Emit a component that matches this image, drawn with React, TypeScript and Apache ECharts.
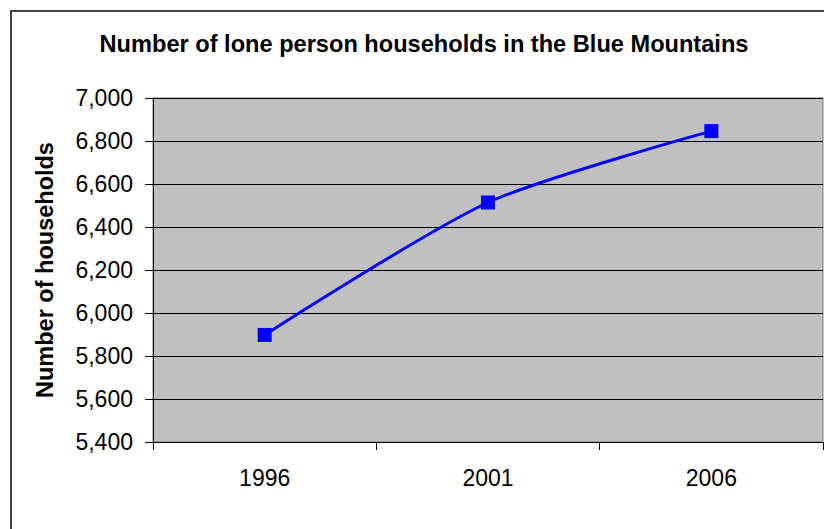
import React, { useEffect, useRef } from "react";
import * as echarts from "echarts";

const categories = ["1996", "2001", "2006"];
const households = [5898, 6514, 6846];
const yTicks = { min: 5400, max: 7000, interval: 200 };
const titleText = "Number of lone person households in the Blue Mountains";
const yAxisTitle = "Number of households";

export default function App() {
  const ref = useRef<HTMLDivElement>(null);
  useEffect(() => {
    if (!ref.current) return;
    const chart = echarts.init(ref.current, undefined, { renderer: "svg" });
    const font = "'Liberation Sans', Arial, sans-serif";
    chart.setOption({
      animation: false,
      backgroundColor: "#ffffff",
      graphic: [
        {
          type: "rect",
          shape: { x: 11, y: 11, width: 840, height: 540 },
          style: { fill: "none", stroke: "#444444", lineWidth: 2 },
          silent: true,
        },
        {
          type: "text",
          x: 424,
          y: 44,
          style: {
            text: titleText,
            font: `bold 23.6px ${font}`,
            fill: "#000000",
            textAlign: "center",
            textVerticalAlign: "middle",
          },
        },
      ],
      grid: {
        left: 153,
        top: 98,
        right: 1,
        bottom: 87,
        show: true,
        backgroundColor: "#C0C0C0",
        borderColor: "#808080",
        borderWidth: 1,
      },
      xAxis: {
        type: "category",
        data: categories,
        boundaryGap: true,
        axisLine: { lineStyle: { color: "#000000", width: 1 } },
        axisTick: { show: true, length: 8, inside: false, lineStyle: { color: "#000000" } },
        axisLabel: { fontFamily: font, fontSize: 23, color: "#000000", margin: 24 },
        splitLine: { show: false },
      },
      yAxis: {
        type: "value",
        min: yTicks.min,
        max: yTicks.max,
        interval: yTicks.interval,
        name: yAxisTitle,
        nameLocation: "middle",
        nameRotate: 90,
        nameGap: 96,
        nameTextStyle: { fontFamily: font, fontSize: 23.5, fontWeight: "bold", color: "#000000" },
        axisLine: { show: true, lineStyle: { color: "#000000", width: 1 } },
        axisTick: { show: true, length: 8, inside: false, lineStyle: { color: "#000000" } },
        axisLabel: {
          fontFamily: font,
          fontSize: 23,
          color: "#000000",
          margin: 20,
          formatter: (v: number) => v.toLocaleString("en-US"),
        },
        splitLine: { show: true, lineStyle: { color: "#000000", width: 1 } },
      },
      series: [
        {
          type: "line",
          data: households,
          smooth: 0.25,
          symbol: "rect",
          symbolSize: 14,
          lineStyle: { color: "#0000FF", width: 3 },
          itemStyle: { color: "#0000FF" },
        },
      ],
    });
    return () => chart.dispose();
  }, []);
  return (
    <div
      ref={ref}
      style={{ position: "fixed", left: 0, top: 0, width: 824, height: 529 }}
    />
  );
}
